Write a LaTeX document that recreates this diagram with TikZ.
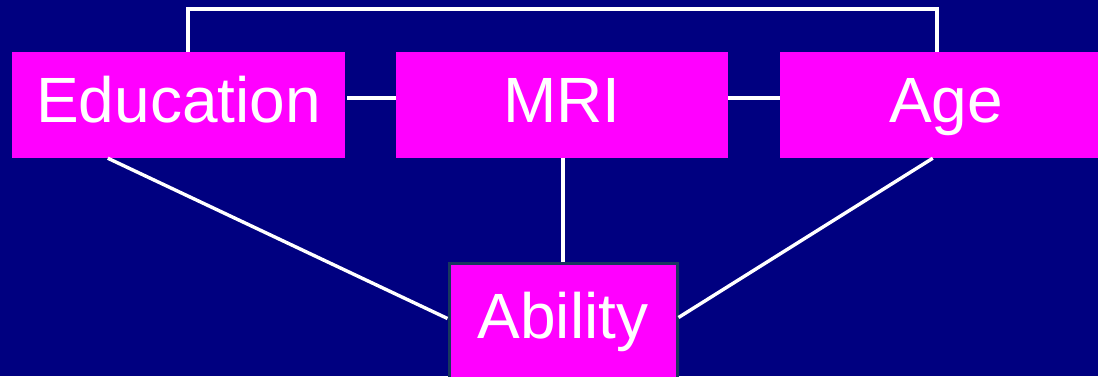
\documentclass[tikz,border=0pt]{standalone}
\usepackage{fontspec}
\setmainfont{Liberation Sans}
\usetikzlibrary{calc}
\definecolor{navybg}{RGB}{0,0,128}
\definecolor{boxmag}{RGB}{255,0,255}
\definecolor{rimblue}{RGB}{23,55,94}
\begin{document}
\begin{tikzpicture}[x=1pt,y=-1pt,
  varbox/.style={fill=boxmag, text=white, inner sep=0pt,
    minimum width=332pt, minimum height=106pt,
    font=\fontsize{64}{64}\selectfont, text height=50pt, text depth=16pt},
  link/.style={draw=white, line width=3.4pt}]
  \useasboundingbox (0,0) rectangle (1098,376);
  \clip (0,0) rectangle (1098,376);
  \fill[navybg] (0,0) rectangle (1098,376);

  % the four variables
  \node[varbox, minimum width=333pt] (edu) at (178.5,105) {Education};
  \node[varbox] (mri) at (562,105) {MRI};
  \node[varbox] (age) at (946,105) {Age};
  \node[varbox, draw=rimblue, line width=3pt, minimum width=228pt,
        minimum height=117pt] (abil) at (563,321.5) {Ability};

  % Education -- Age link over the top
  \draw[link] ($(edu.north west)+(176,0)$) |- (188,9) -| ($(age.north west)+(157,0)$);
  % side links along the row
  \draw[link] ($(edu.east)+(2,-7)$) -- ($(mri.west)+(0,-7)$);
  \draw[link] ($(mri.east)+(0,-7)$) -- ($(age.west)+(0,-7)$);
  % links down to Ability
  \draw[link] ($(edu.south west)+(96,0)$) -- ($(abil.west)+(0,-3)$);
  \draw[link] (mri.south -| abil.north) -- (abil.north);
  \draw[link] ($(age.south west)+(153,0)$) -- ($(abil.east)+(0,-4)$);
\end{tikzpicture}
\end{document}
